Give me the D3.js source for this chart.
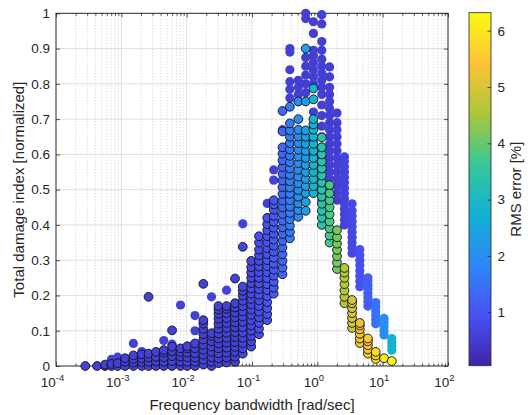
<!DOCTYPE html>
<html>
<head>
<meta charset="utf-8">
<script src="https://cdn.jsdelivr.net/npm/d3@7"></script>
<style>
  body { margin: 0; background: #fff; }
  svg { display: block; font-family: "Liberation Sans", Arial, Helvetica, sans-serif; }
</style>
</head>
<body>
<svg id="chart" width="528" height="415"></svg>
<script>
// frequency bandwidth of each column of runs [rad/sec]
const bandwidth = [2.81e-4, 4.26e-4, 5.64e-4, 7.07e-4, 8.77e-4, 1.14e-3, 1.53e-3, 2.06e-3, 2.61e-3, 3.38e-3,
  4.46e-3, 5.98e-3, 8.05e-3, 0.0102, 0.0134, 0.0180, 0.0240, 0.0307, 0.0408, 0.0550,
  0.0723, 0.0973, 0.128, 0.171, 0.215, 0.293, 0.380, 0.512, 0.664, 0.871,
  1.17, 1.54, 2.00, 2.60, 3.40, 4.47, 5.94, 7.83, 10.5, 13.8];

// damage index of the runs drawn with a black edge, one list per bandwidth
const edgedDamage = [
  [0], [0], [0, 0.004], [0, 0.006], [0, 0.008],
  [0, 0.012, 0.022], [0, 0.01, 0.02, 0.03], [0, 0.011, 0.022, 0.033], [0, 0.012, 0.024, 0.035, 0.196], [0, 0.013, 0.026, 0.04],
  [0, 0.012, 0.025, 0.038, 0.045], [0, 0.014, 0.028, 0.042, 0.055, 0.101], [0, 0.013, 0.027, 0.04, 0.05],
  [0, 0.012, 0.025, 0.038, 0.05, 0.056], [0, 0.012, 0.024, 0.036, 0.05, 0.064],
  [0.004, 0.018, 0.032, 0.046, 0.06, 0.075, 0.09, 0.105, 0.12, 0.13, 0.233],
  [0, 0.012, 0.025, 0.04, 0.055, 0.07, 0.085, 0.093],
  [0.008, 0.022, 0.036, 0.05, 0.064, 0.078, 0.092, 0.106, 0.12, 0.134, 0.148, 0.16, 0.17],
  [0.01, 0.024, 0.038, 0.052, 0.066, 0.08, 0.094, 0.108, 0.122, 0.136, 0.15, 0.162, 0.17],
  [0.012, 0.026, 0.04, 0.054, 0.068, 0.082, 0.096, 0.11, 0.124, 0.138, 0.152, 0.166, 0.178, 0.248],
  [0.035, 0.05, 0.065, 0.08, 0.095, 0.11, 0.125, 0.14, 0.155, 0.17, 0.185, 0.2, 0.213, 0.225, 0.338],
  [0.055, 0.07, 0.085, 0.1, 0.115, 0.13, 0.145, 0.16, 0.175, 0.19, 0.205, 0.22, 0.235, 0.25, 0.265, 0.28, 0.298],
  [0.09, 0.106, 0.122, 0.138, 0.154, 0.17, 0.186, 0.202, 0.218, 0.234, 0.25, 0.266, 0.282, 0.298, 0.314, 0.33, 0.35, 0.368],
  [0.13, 0.147, 0.164, 0.181, 0.198, 0.215, 0.232, 0.249, 0.266, 0.283, 0.3, 0.317, 0.334, 0.351, 0.368, 0.385, 0.402, 0.42],
  [0.205, 0.222, 0.239, 0.256, 0.273, 0.29, 0.307, 0.324, 0.341, 0.358, 0.375, 0.392, 0.409, 0.426, 0.443, 0.458, 0.47],
  [0.26, 0.279, 0.298, 0.317, 0.336, 0.355, 0.374, 0.393, 0.412, 0.431, 0.45, 0.469, 0.488, 0.507, 0.526, 0.545, 0.564, 0.583, 0.602, 0.62, 0.665, 0.723],
  [0.362, 0.38, 0.398, 0.416, 0.434, 0.452, 0.47, 0.488, 0.506, 0.524, 0.542, 0.56, 0.578, 0.596, 0.614, 0.632, 0.65, 0.668, 0.688, 0.735],
  [0.423, 0.442, 0.461, 0.48, 0.499, 0.518, 0.537, 0.556, 0.575, 0.594, 0.613, 0.632, 0.651, 0.67, 0.70, 0.75],
  [0.44, 0.465, 0.49, 0.51, 0.53, 0.55, 0.57, 0.59, 0.61, 0.63, 0.65, 0.668, 0.75, 0.90],
  [0.49, 0.51, 0.53, 0.55, 0.57, 0.59, 0.61, 0.63, 0.65, 0.67, 0.685, 0.70, 0.756, 0.787],
  [0.40, 0.42, 0.44, 0.46, 0.48, 0.50, 0.52, 0.54, 0.56, 0.58, 0.60, 0.62, 0.648],
  [0.35, 0.37, 0.39, 0.41, 0.43, 0.45, 0.47, 0.49, 0.513],
  [0.275, 0.293, 0.311, 0.329, 0.347, 0.365, 0.385],
  [0.178, 0.196, 0.214, 0.232, 0.25, 0.265, 0.278],
  [0.108, 0.122, 0.136, 0.15, 0.164, 0.178, 0.187],
  [0.065, 0.078, 0.091, 0.104, 0.115, 0.122],
  [0.035, 0.047, 0.059, 0.07, 0.078],
  [0.02, 0.03, 0.04],
  [0.022],
  [0.014]
];
const edgedError = [0.6, 0.6, 0.6, 0.6, 0.6, 0.6, 0.6, 0.6, 0.6, 0.6,
  0.6, 0.6, 0.6, 0.6, 0.6, 0.6, 0.6, 0.6, 0.6, 0.6,
  0.7, 0.75, 0.85, 0.95, 1.05, 1.3, 1.65, 1.95, 2.35, 2.8,
  3.35, 3.75, 4.15, 4.6, 4.95, 5.25, 5.5, 5.8, 6.05, 6.3];

// damage index of the runs drawn without edge
const plainDamage = [
  [], [], [], [0.019], [0.025],
  [], [0.064], [0.041], [], [],
  [0.072], [0.062], [0.173], [], [0.10, 0.143],
  [], [0.196], [], [0.215], [],
  [0.403], [], [], [0.461], [0.225, 0.527, 0.556],
  [0.67],
  [0.76, 0.785, 0.806, 0.84, 0.89, 0.90],
  [0.75, 0.77, 0.79, 0.81],
  [0.775, 0.80, 0.825, 0.85, 0.875, 0.985, 1.0],
  [0.60, 0.64, 0.68, 0.72, 0.80, 0.82, 0.84, 0.86, 0.88, 0.895, 0.943, 0.976],
  [0.47, 0.50, 0.53, 0.56, 0.59, 0.62, 0.65, 0.68, 0.71, 0.74, 0.77, 0.79, 0.81, 0.83, 0.85, 0.87, 0.895, 0.92, 0.97, 0.996],
  [0.47, 0.49, 0.51, 0.53, 0.55, 0.57, 0.59, 0.61, 0.63, 0.65, 0.67, 0.69, 0.71, 0.73, 0.75, 0.77, 0.79, 0.82, 0.848],
  [0.47, 0.49, 0.51, 0.53, 0.55, 0.57, 0.59, 0.61, 0.63, 0.65, 0.67, 0.69, 0.717],
  [0.40, 0.415, 0.43, 0.445, 0.46, 0.475, 0.49, 0.505, 0.52, 0.535, 0.55, 0.565, 0.58, 0.593],
  [0.32, 0.335, 0.35, 0.365, 0.38, 0.395, 0.41, 0.425, 0.44, 0.46],
  [0.225, 0.24, 0.255, 0.27, 0.285, 0.30, 0.315, 0.33],
  [0.17, 0.182, 0.194, 0.206, 0.218, 0.23, 0.242, 0.25],
  [0.12, 0.132, 0.144, 0.156, 0.168, 0.18],
  [0.088, 0.1, 0.112, 0.124, 0.135],
  [0.045, 0.056, 0.067, 0.078]
];
const plainError = [0.6, 0.6, 0.6, 0.6, 0.6, 0.6, 0.6, 0.6, 0.6, 0.6,
  0.6, 0.6, 0.6, 0.6, 0.6, 0.6, 0.6, 0.6, 0.6, 0.6,
  0.6, 0.6, 0.6, 0.6, 0.6, 0.6, 0.55, 0.55, 0.55, 0.55,
  0.55, 0.55, 0.55, 0.65, 0.75, 0.9, 1.15, 1.45, 1.95, 2.75];

const yTicks = [0, 0.1, 0.2, 0.3, 0.4, 0.5, 0.6, 0.7, 0.8, 0.9, 1];
const xDecades = [1e-4, 1e-3, 1e-2, 1e-1, 1e0, 1e1, 1e2];
const errorTicks = [1, 2, 3, 4, 5, 6];
const errorRange = [0.05, 6.32];

// parula, 8 samples
const parula = ["#3e26a8", "#4752f4", "#2d87f7", "#12b1d6", "#37c897", "#abc739", "#fec338", "#f9fb15"];

const ink = "#262626";
const plotLeft = 56, plotRight = 448, plotTop = 13.3, plotBottom = 366;

const svg = d3.select("#chart");

const x = d3.scaleLog().domain([1e-4, 1e2]).range([plotLeft, plotRight]);
const y = d3.scaleLinear().domain([0, 1]).range([plotBottom, plotTop]);
const color = d3.scaleLinear()
  .domain(parula.map((_, i) => errorRange[0] + i / (parula.length - 1) * (errorRange[1] - errorRange[0])))
  .range(parula)
  .interpolate(d3.interpolateRgb)
  .clamp(true);

const isDecade = d => Math.abs(Math.log10(d) - Math.round(Math.log10(d))) < 1e-6;
const minor = x.ticks().filter(d => !isDecade(d));

// grid
const grid = svg.append("g");
grid.selectAll(".minor").data(minor).enter().append("line")
  .attr("x1", d => x(d)).attr("x2", d => x(d))
  .attr("y1", plotTop).attr("y2", plotBottom)
  .attr("stroke", "#c4c4c4").attr("stroke-width", 0.8).attr("stroke-dasharray", "1,2");
grid.selectAll(".mx").data(xDecades.slice(1, -1)).enter().append("line")
  .attr("x1", d => x(d)).attr("x2", d => x(d))
  .attr("y1", plotTop).attr("y2", plotBottom)
  .attr("stroke", "#dfdfdf").attr("stroke-width", 1);
grid.selectAll(".my").data(yTicks.slice(1, -1)).enter().append("line")
  .attr("x1", plotLeft).attr("x2", plotRight)
  .attr("y1", d => y(d)).attr("y2", d => y(d))
  .attr("stroke", "#dfdfdf").attr("stroke-width", 1);

// ticks on all four sides, pointing inward
function tickAxis(axis, transform) {
  const g = svg.append("g").attr("transform", transform).call(axis);
  g.select(".domain").remove();
  g.selectAll("line").attr("stroke", ink).attr("stroke-width", 0.8);
  return g;
}
tickAxis(d3.axisBottom(x).tickValues(xDecades).tickSize(-4).tickFormat(""), `translate(0,${plotBottom})`);
tickAxis(d3.axisBottom(x).tickValues(minor).tickSize(-2.5).tickFormat(""), `translate(0,${plotBottom})`);
tickAxis(d3.axisTop(x).tickValues(xDecades).tickSize(-4).tickFormat(""), `translate(0,${plotTop})`);
tickAxis(d3.axisTop(x).tickValues(minor).tickSize(-2.5).tickFormat(""), `translate(0,${plotTop})`);
tickAxis(d3.axisRight(y).tickValues(yTicks).tickSize(-4).tickFormat(""), `translate(${plotRight},0)`);
const yAxis = tickAxis(d3.axisLeft(y).tickValues(yTicks).tickSize(-4).tickPadding(6).tickFormat(d3.format("~g")), `translate(${plotLeft},0)`);
yAxis.attr("font-size", null).attr("font-family", null);
yAxis.selectAll("text").attr("fill", ink).style("font-size", "13.5px");

svg.append("rect")
  .attr("x", plotLeft).attr("y", plotTop)
  .attr("width", plotRight - plotLeft).attr("height", plotBottom - plotTop)
  .attr("fill", "none").attr("stroke", ink).attr("stroke-width", 1);

// x tick labels as 10^n
const xl = svg.append("g").selectAll("text").data(xDecades).enter().append("text")
  .attr("x", d => x(d) - 3.5).attr("y", 386.5)
  .attr("text-anchor", "middle").attr("fill", ink).style("font-size", "13.5px");
xl.append("tspan").text("10");
xl.append("tspan").attr("dy", -6).style("font-size", "9.5px").text(d => Math.round(Math.log10(d)));

// points
const plain = [], edged = [];
bandwidth.forEach((b, i) => {
  plainDamage[i].forEach(v => plain.push({ b, v, e: plainError[i] }));
  edgedDamage[i].forEach(v => edged.push({ b, v, e: edgedError[i] }));
});

svg.append("g").selectAll("circle").data(plain).enter().append("circle")
  .attr("cx", d => x(d.b)).attr("cy", d => y(d.v)).attr("r", 4.6)
  .attr("fill", d => color(d.e));

svg.append("g").selectAll("circle").data(edged).enter().append("circle")
  .attr("cx", d => x(d.b)).attr("cy", d => y(d.v)).attr("r", 4.4)
  .attr("fill", d => color(d.e))
  .attr("stroke", "#111").attr("stroke-width", 0.9);

// axis labels
svg.append("text")
  .attr("x", (plotLeft + plotRight) / 2).attr("y", 409.5)
  .attr("text-anchor", "middle").attr("fill", ink).style("font-size", "15px")
  .text("Frequency bandwidth [rad/sec]");
svg.append("text")
  .attr("transform", `translate(23.5,${(plotTop + plotBottom) / 2}) rotate(-90)`)
  .attr("text-anchor", "middle").attr("fill", ink).style("font-size", "15px")
  .text("Total damage index [normalized]");

// colorbar
const cbLeft = 469, cbRight = 491, cbTop = 12.7, cbBottom = 365.7;
const cb = d3.scaleLinear().domain(errorRange).range([cbBottom, cbTop]);
const grad = svg.append("defs").append("linearGradient")
  .attr("id", "parula").attr("x1", 0).attr("y1", 1).attr("x2", 0).attr("y2", 0);
grad.selectAll("stop").data(parula).enter().append("stop")
  .attr("offset", (d, i) => i / (parula.length - 1))
  .attr("stop-color", d => d);
svg.append("rect")
  .attr("x", cbLeft).attr("y", cbTop)
  .attr("width", cbRight - cbLeft).attr("height", cbBottom - cbTop)
  .attr("fill", "url(#parula)").attr("stroke", ink).attr("stroke-width", 0.8);
const cAxis = tickAxis(d3.axisRight(cb).tickValues(errorTicks).tickSize(-3.5).tickPadding(6.5).tickFormat(d3.format("d")), `translate(${cbRight},0)`);
cAxis.attr("font-size", null).attr("font-family", null);
cAxis.selectAll("text").attr("fill", ink).style("font-size", "13.5px");
svg.append("text")
  .attr("transform", `translate(520.5,${(cbTop + cbBottom) / 2}) rotate(-90)`)
  .attr("text-anchor", "middle").attr("fill", ink).style("font-size", "15px")
  .text("RMS error [%]");
</script>
</body>
</html>
